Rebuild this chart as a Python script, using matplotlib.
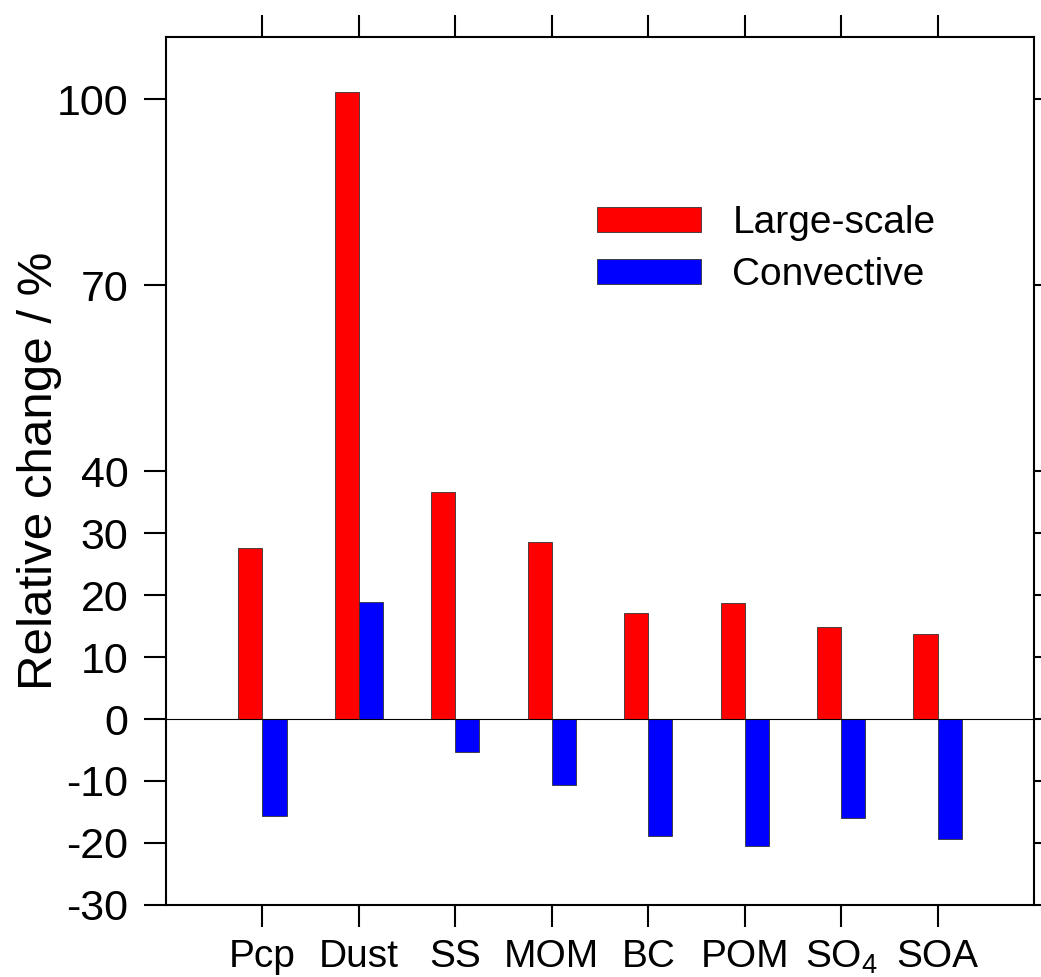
import matplotlib
matplotlib.use("Agg")
import matplotlib.pyplot as plt
import numpy as np

plt.rcParams['font.family'] = ['Liberation Sans', 'DejaVu Sans']
plt.rcParams['mathtext.fontset'] = 'custom'
plt.rcParams['mathtext.rm'] = 'Liberation Sans'

# Data
species = ['Pcp', 'Dust', 'SS', 'MOM', 'BC', 'POM', r'SO$_\mathregular{4}$', 'SOA']
large_scale = [27.6, 101.1, 36.6, 28.5, 17.1, 18.7, 14.8, 13.7]
convective = [-15.6, 18.9, -5.3, -10.6, -18.9, -20.5, -16.0, -19.4]
yticks = [-30, -20, -10, 0, 10, 20, 30, 40, 70, 100]

fig = plt.figure(figsize=(10.41, 9.77), dpi=100)
ax = fig.add_axes([0.1595, 0.0737, 0.8338, 0.8884])

x = np.arange(len(species))
w = 0.25
ax.bar(x - w / 2, large_scale, w, color='#ff0000', edgecolor='#333333', linewidth=0.6, label='Large-scale')
ax.bar(x + w / 2, convective, w, color='#0000ff', edgecolor='#333333', linewidth=0.6, label='Convective')
ax.axhline(0, color='black', linewidth=0.8)

ax.set_xlim(-1, 8)
ax.set_ylim(-30, 110)
ax.set_xticks(x)
ax.set_xticklabels(species, fontsize=28)
ax.set_yticks(yticks)
ax.set_yticklabels([str(v) for v in yticks], fontsize=31)
ax.tick_params(axis='both', direction='out', length=16, width=1.5, top=True, right=True)
ax.tick_params(axis='y', pad=11)
ax.tick_params(axis='x', pad=8.5)
for s in ax.spines.values():
    s.set_linewidth(1.5)

ax.set_ylabel('Relative change / %', fontsize=35.5)
ax.yaxis.set_label_coords(-0.1198, 0.5)

ax.legend(loc='upper left', bbox_to_anchor=(0.497, 0.806), frameon=False, fontsize=28,
          handlelength=2.67, handleheight=0.62, handletextpad=0.8, labelspacing=0.41,
          borderpad=0, borderaxespad=0)

fig.savefig('out.png', dpi=100)
